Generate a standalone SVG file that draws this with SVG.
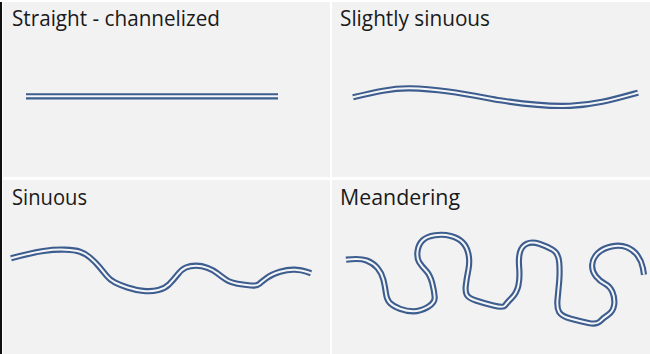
<svg xmlns="http://www.w3.org/2000/svg" xmlns:xlink="http://www.w3.org/1999/xlink" width="650" height="354" viewBox="0 0 650 354">
<style>
.panel{fill:#f2f2f2}
.lbl{font-family:"Open Sans","Liberation Sans",sans-serif;font-size:21px;fill:#1a1a1a}
.outer{fill:none;stroke:#3d5d8f;stroke-width:6.2;stroke-linecap:butt;stroke-linejoin:round}
.inner{fill:none;stroke:#f4f5f7;stroke-width:2;stroke-linecap:butt;stroke-linejoin:round}
</style>
<defs>
<path id="c1" d="M26,96.3 L278,96.3"/>
<path id="c2" d="M353,97.3 C375,92 392,88 410,88.3 C440,88.7 470,95 500,100.3 C530,105 550,106.5 570,105.8 C595,105 615,99 638,92.7"/>
<path id="c3" d="M11,258.3 Q31.7,252.7 43.4,251 Q55,249.3 65,249.7 Q75,250 80,251.7 Q85,253.3 90,257.5 Q95,261.7 99.2,266.7 Q103.3,271.7 106.7,275.9 Q110,280 115,282.5 Q120,285 127.5,287.5 Q135,290 143.4,290.9 Q151.7,291.7 158.4,290 Q165,288.3 169.2,284.2 Q173.3,280 177.5,274.7 Q181.7,269.3 185.9,267.5 Q190,265.7 195.9,265.7 Q201.7,265.7 207.5,267.9 Q213.3,270 217.5,273.4 Q221.7,276.7 225.9,279.5 Q230,282.3 237.5,283.7 Q245,285 250.9,285.5 Q256.7,286 259.2,283.9 Q261.7,281.7 266.7,278 Q271.7,274.3 280,271.8 Q288.3,269.3 295,269.7 Q301.7,270 306.4,271.7 L311,273.3"/>
<path id="c4" d="M346,259.7 Q360,258 366.7,260.5 Q373.3,263 377.5,268 Q381.7,273 383.4,279.7 Q385,286.3 385.9,293 Q386.7,299.7 390,303 Q393.3,306.3 400,308.8 Q406.7,311.3 413.4,311.3 Q420,311.3 427.5,307.2 Q435,303 434.7,297.2 Q434.3,291.3 432.2,283 Q430,274.7 425.9,270.5 Q421.7,266.3 419.2,262.2 Q416.7,258 417.5,251.4 Q418.3,244.7 422.5,240.5 Q426.7,236.3 435,235.2 Q443.3,234 450.8,236 Q458.3,238 462.5,242.2 Q466.7,246.3 468.4,253.8 Q470,261.3 468.4,269.7 Q466.7,278 465.9,284.7 Q465,291.3 466.7,294.7 Q468.3,298 475.8,300.5 Q483.3,303 493.3,305.5 Q503.3,308 505,305.5 Q506.7,303 511.7,298 Q516.7,293 518.4,285.5 Q520,278 519.2,268 Q518.3,258 520,252.2 Q521.7,246.3 526.7,243.8 Q531.7,241.3 539.2,243.8 Q546.7,246.3 552.5,249.7 Q558.3,253 559.2,262.2 Q560,271.3 559.2,281.3 Q558.3,291.3 557.5,299.7 Q556.7,308 559.2,312.2 Q561.7,316.3 570.9,318.8 Q580,321.3 588.4,323 Q596.7,324.7 600,321.4 Q603.3,318 608.3,314.7 Q613.3,311.3 614.2,304.7 Q615,298 612.5,292.2 Q610,286.3 605,283.8 Q600,281.3 595.9,276.3 Q591.7,271.3 592.2,264.7 Q592.7,258 598,253 Q603.3,248 611.7,246.4 Q620,244.7 626.7,247.2 Q633.3,249.7 637.5,255.5 Q641.7,261.3 642.9,268 L644,274.7"/>
</defs>
<rect x="0" y="0" width="650" height="354" fill="#ffffff"/>
<rect x="0" y="2" width="2" height="352" fill="#111111"/>
<g id="straight">
<rect class="panel" x="3" y="2" width="327" height="175"/>
<text class="lbl" x="12" y="26" textLength="208" lengthAdjust="spacingAndGlyphs">Straight - channelized</text>
<use xlink:href="#c1" class="outer"/>
<use xlink:href="#c1" class="inner"/>
</g>
<g id="slightly-sinuous">
<rect class="panel" x="332" y="2" width="318" height="175"/>
<text class="lbl" x="340" y="26" textLength="150" lengthAdjust="spacingAndGlyphs">Slightly sinuous</text>
<use xlink:href="#c2" class="outer"/>
<use xlink:href="#c2" class="inner"/>
</g>
<g id="sinuous">
<rect class="panel" x="3" y="180" width="327" height="174"/>
<text class="lbl" x="12" y="205" textLength="75" lengthAdjust="spacingAndGlyphs">Sinuous</text>
<use xlink:href="#c3" class="outer"/>
<use xlink:href="#c3" class="inner"/>
</g>
<g id="meandering">
<rect class="panel" x="332" y="180" width="318" height="174"/>
<text class="lbl" x="340" y="205" textLength="120" lengthAdjust="spacingAndGlyphs">Meandering</text>
<use xlink:href="#c4" class="outer"/>
<use xlink:href="#c4" class="inner"/>
</g>
</svg>
